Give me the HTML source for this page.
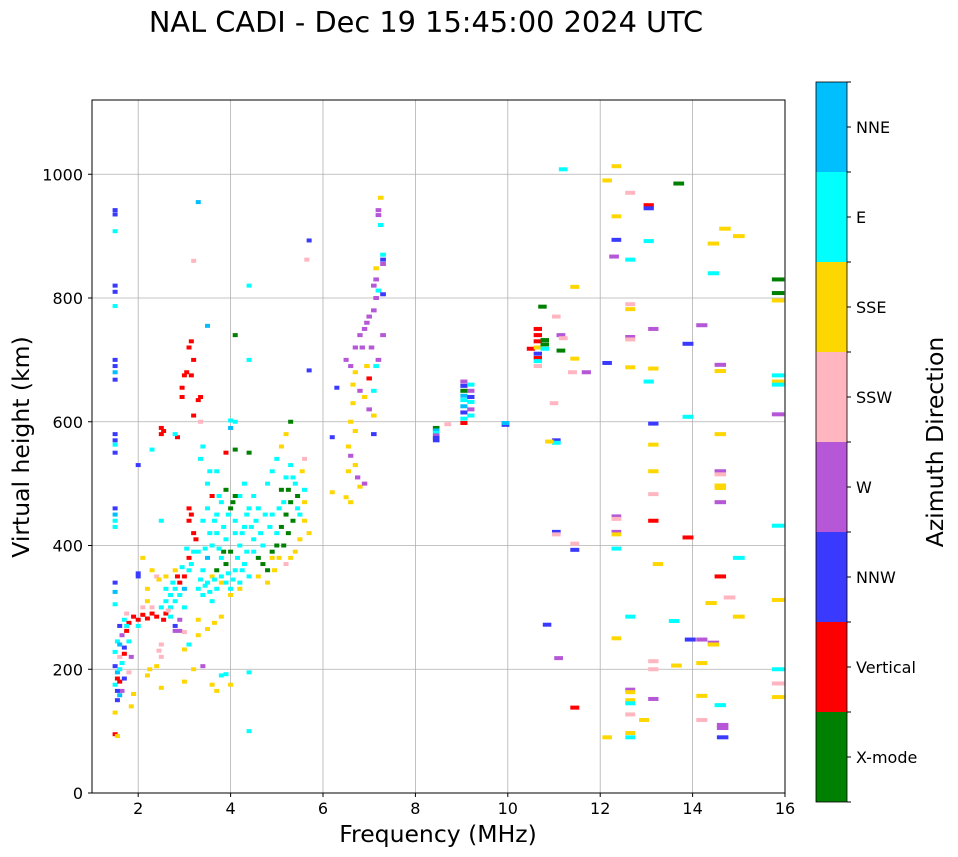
<!DOCTYPE html>
<html><head><meta charset="utf-8">
<style>
body{margin:0;background:#fff;}
svg{display:block;font-family:"DejaVu Sans","Liberation Sans",sans-serif;}
</style></head>
<body>
<svg id="chart" width="958" height="857" viewBox="0 0 958 857">
<text x="426" y="32" font-size="28.8" text-anchor="middle">NAL CADI - Dec 19 15:45:00 2024 UTC</text>
<g id="grid"></g>
<g id="marks"></g>
<rect x="92" y="100" width="693" height="693" fill="none" stroke="#000" stroke-width="1"/>
<g id="axes"></g>
<text x="438" y="842" font-size="23.5" text-anchor="middle">Frequency (MHz)</text>
<text transform="translate(29,447) rotate(-90)" font-size="23.5" text-anchor="middle">Virtual height (km)</text>
<g id="cbar"></g>
<text transform="translate(943,442) rotate(-90)" font-size="23.5" text-anchor="middle">Azimuth Direction</text>
</svg>
<script>
const directions = ["X-mode","Vertical","NNW","W","SSW","SSE","E","NNE"];
const dirColors = ["#008000","#ff0000","#3a3aff","#b557d6","#ffb6c1","#ffd700","#00ffff","#00bfff"];
const xTicks = [2,4,6,8,10,12,14,16];
const yTicks = [0,200,400,600,800,1000];
// echoes: [frequency MHz, virtual height km, direction index]
const echoes = [
[12.35,1013,5],[12.15,990,5],[12.65,970,4],[13.05,950,1],[13.05,945,2],[13.7,985,0],[12.35,932,5],[13.05,892,6],
[14.45,888,5],[14.7,912,5],[15.0,900,5],[12.35,894,2],[12.3,867,3],[12.65,862,6],[14.45,840,6],
[15.85,830,0],[15.85,808,0],[15.85,796,5],[11.45,818,5],[12.65,790,4],[12.65,782,5],[12.65,737,3],[12.65,733,4],
[13.15,750,3],[14.2,756,3],[13.9,726,2],[12.15,695,2],[11.45,702,5],[11.4,680,4],[11.7,680,3],
[12.65,688,5],[13.15,686,5],[13.05,665,6],[14.6,692,3],[14.6,682,5],[15.85,675,6],[15.85,665,5],[15.85,660,6],
[15.85,612,3],[13.9,608,6],[13.15,597,2],[14.6,580,5],[13.15,563,5],[13.15,520,5],[14.6,520,3],[14.6,515,4],
[14.6,497,5],[14.6,493,5],[14.6,470,3],[13.15,483,4],[13.15,440,1],[13.9,413,1],[15.85,432,6],
[12.35,447,3],[12.35,443,4],[12.35,422,3],[12.35,418,5],[12.35,395,6],[15.0,380,6],[14.6,350,1],[13.25,370,5],
[15.85,312,5],[14.4,307,5],[14.8,316,4],[15.0,285,5],[12.65,285,6],[13.6,278,6],[12.35,250,5],[13.95,248,2],
[14.2,248,3],[14.45,243,3],[14.45,240,5],[13.15,213,4],[13.15,200,4],[13.65,206,5],[14.2,210,5],
[15.85,200,6],[15.85,177,4],[15.85,155,5],[12.65,167,3],[12.65,163,5],[12.65,150,5],[12.65,145,6],[12.65,127,4],
[12.95,118,5],[13.15,152,3],[14.2,157,5],[14.6,142,6],[14.2,118,4],[14.65,110,3],[14.65,105,3],[14.65,90,2],
[12.65,97,5],[12.65,90,6],[12.15,90,5],[11.45,138,1],[11.1,218,3],[10.85,272,2],[11.45,393,2],[11.45,403,4],
[11.05,422,2],[11.05,418,4],[11.05,570,2],[11.05,566,6],[10.9,568,5],[11.0,630,4],[11.05,770,4],[11.2,1008,6],
[10.75,786,0],[10.5,718,1],[10.65,750,1],[10.65,740,1],[10.65,730,1],[10.65,720,5],[10.65,710,2],[10.65,703,1],
[10.65,698,6],[10.65,690,4],[10.8,732,0],[10.8,725,0],[10.8,718,6],[11.15,740,3],[11.2,735,4],[11.15,715,0],
[9.95,595,2],[9.95,598,7],
[9.05,665,3],[9.05,658,2],[9.05,650,0],[9.05,642,7],[9.05,635,6],[9.05,625,7],[9.05,615,2],[9.05,605,6],[9.05,598,1],
[9.2,660,6],[9.2,650,3],[9.2,640,2],[9.2,632,6],[9.2,620,3],[9.2,610,6],
[8.45,590,0],[8.45,586,7],[8.45,582,6],[8.45,578,3],[8.45,574,2],[8.45,570,2],[8.7,596,4],
[7.25,962,5],[7.2,942,3],[7.2,934,3],[7.25,918,6],[7.3,870,6],[7.3,862,2],[7.3,855,3],[7.15,848,5],[7.15,830,3],
[7.1,820,3],[7.2,812,6],[7.3,806,2],[7.15,800,3],
[6.5,700,3],[6.6,690,3],[6.7,720,3],[6.8,740,3],[6.9,750,3],[7.0,770,3],[7.1,780,3],[7.05,720,3],[6.95,690,5],
[6.7,680,5],[6.65,660,5],[6.8,650,3],[6.9,640,5],[7.0,620,3],[7.1,610,5],[6.6,600,5],[6.7,585,5],[6.55,560,5],
[6.6,545,3],[6.7,530,5],[6.75,510,3],[6.8,495,5],[6.9,500,3],[6.55,520,5],[6.6,470,5],[7.1,650,6],[7.15,690,6],
[7.3,740,3],[7.2,700,3],[7.0,670,1],[6.65,630,5],[7.1,580,2],[6.85,720,3],[6.95,760,3],
[6.3,655,2],[6.2,575,2],[6.2,486,5],[6.5,478,5],[5.7,893,2],[5.65,862,4],[5.7,683,2],
[1.5,942,2],[1.5,935,2],[1.5,908,6],[1.5,820,2],[1.5,810,2],[1.5,787,6],[1.5,700,2],[1.5,690,2],[1.5,680,7],
[1.5,668,2],[1.5,580,2],[1.5,570,2],[1.5,563,6],[1.5,550,2],[1.5,460,2],[1.5,450,7],[1.5,440,6],[1.5,430,6],
[1.5,95,1],[1.55,92,5],[1.5,130,5],[1.55,150,2],[1.6,158,7],[1.65,165,3],[1.5,175,6],[1.6,180,1],[1.7,185,2],
[1.55,195,7],[1.5,205,2],[1.65,210,6],[1.6,220,4],[1.5,228,6],[1.7,235,2],[1.55,245,6],[1.65,255,3],[1.75,262,1],
[1.6,270,2],[1.7,280,6],[1.75,290,4],[1.8,275,1],[1.8,245,6],[1.85,220,3],[1.8,195,4],[1.9,160,5],[1.85,140,5],
[1.5,340,2],[1.5,325,7],[1.5,305,6],[1.55,165,2],[1.6,200,6],[1.7,225,1],[1.6,240,7],[1.75,270,6],[1.55,185,1],
[1.9,285,1],[2.0,280,1],[2.1,288,1],[2.2,282,1],[2.3,290,1],[2.4,285,1],[2.0,270,6],[2.1,300,4],[2.2,310,5],
[2.3,300,4],[2.0,350,2],[2.2,330,5],[2.3,360,5],[2.4,350,4],[2.45,345,5],[2.5,300,6],[2.5,240,4],[2.45,230,4],
[2.5,220,4],[2.4,205,5],[2.25,200,5],[2.2,190,5],[2.6,310,6],[2.7,320,6],[2.6,290,1],[2.7,300,6],[2.8,310,6],
[2.8,330,6],[2.9,340,1],[2.9,320,6],[3.0,350,1],[3.0,330,7],[3.1,360,6],[3.1,380,1],[3.2,390,6],[3.0,300,6],
[2.9,280,3],[2.8,262,3],[2.9,262,3],[3.0,260,4],[3.1,240,6],[3.0,232,5],[2.8,270,2],[2.7,285,6],
[2.55,280,1],[2.65,295,4],[2.75,340,6],[2.95,365,6],[3.05,395,6],[3.15,370,6],[2.85,350,1],[2.6,330,6],
[3.0,675,1],[3.05,680,1],[3.15,675,1],[3.1,720,1],[3.15,730,1],[3.2,700,1],[2.95,655,1],[2.95,640,1],[3.35,640,1],
[3.3,635,1],[3.2,610,1],[2.5,590,1],[2.55,585,1],[2.5,580,1],[3.35,600,4],[2.85,575,1],[3.1,460,1],[3.15,450,1],
[3.1,440,1],[3.2,420,1],[3.25,410,1],
[3.3,330,6],[3.4,320,6],[3.5,340,6],[3.6,310,6],[3.7,330,6],[3.8,350,6],[3.9,340,6],[4.0,330,6],[4.1,360,6],
[4.2,340,6],[4.3,370,6],[4.4,350,6],[3.4,360,6],[3.5,380,7],[3.6,400,6],[3.7,420,6],[3.8,380,6],[3.9,410,6],
[4.0,390,0],[4.1,420,6],[4.2,400,6],[4.3,430,6],[4.5,410,6],[3.4,440,6],[3.5,460,6],[3.6,480,1],[3.7,450,6],
[3.8,470,6],[3.9,490,0],[4.0,460,0],[4.1,440,6],[4.2,480,6],[4.4,460,6],[3.5,500,6],[3.7,520,6],[3.9,550,1],
[4.0,590,7],[4.1,600,6],[3.6,350,5],[3.7,360,0],[3.8,340,5],[4.0,320,5],[4.2,330,5],[3.9,370,0],[3.85,390,0],
[4.05,470,0],[4.1,480,0],[4.4,550,0],[4.3,500,6],[4.5,480,6],[4.6,460,6],[4.8,500,6],[4.9,520,6],[4.6,380,0],
[4.7,370,0],[4.8,360,0],[4.9,390,0],[5.0,400,0],[4.7,400,6],[4.5,390,6],[4.6,350,5],[4.8,340,5],[4.9,380,5],
[5.0,420,6],[5.1,430,0],[5.2,450,0],[5.3,470,0],[5.1,490,0],[5.2,510,6],[5.3,530,6],[5.4,500,6],[5.5,450,6],
[5.6,440,5],[5.7,420,5],[5.5,410,5],[5.4,390,5],[5.3,380,5],[5.2,370,4],[5.6,470,5],[5.1,560,5],[5.3,600,0],
[5.2,580,5],[5.6,540,4],[5.55,520,5],[5.0,540,6],[4.9,450,6],[5.25,420,0],[5.35,440,0],[5.45,460,6],[5.6,490,6],
[3.35,345,6],[3.45,335,6],[3.55,325,6],[3.65,345,6],[3.75,395,6],[3.95,355,6],[4.05,345,6],[4.15,380,6],
[4.25,360,6],[4.35,390,6],[3.45,395,6],[3.55,420,6],[3.65,440,6],[3.75,480,6],[3.85,430,6],[3.95,450,6],
[4.25,420,6],[4.35,450,6],[4.45,430,6],[4.55,440,6],[4.65,420,6],[4.75,450,6],[4.85,430,6],[5.05,460,6],
[5.15,470,6],[5.25,490,0],[5.35,510,6],[5.45,480,0],[5.15,400,0],[4.95,360,5],[5.05,380,5],[3.3,390,6],
[3.35,540,6],[3.4,560,6],[3.55,520,6],[2.8,360,5],[2.6,350,5],[3.3,280,5],[3.5,265,5],[3.65,275,5],[3.8,285,5],
[3.3,255,5],[3.6,175,5],[3.7,165,5],[3.8,190,6],[3.9,192,6],[4.0,175,5],[3.2,200,5],[3.4,205,3],[4.4,195,6],
[4.1,555,0],[4.4,820,6],[4.1,740,0],[4.4,700,6],[4.0,602,6],[4.4,100,6],[3.3,955,7],[3.5,755,7],[3.2,860,4],
[2.1,380,5],[2.0,355,2],[2.3,555,6],[2.0,530,2],[2.5,440,6],[2.8,580,6],[3.0,180,5],[2.5,170,5]
];
const NS="http://www.w3.org/2000/svg";
const X0=92,X1=785,Y0=793,Y1=100,FMIN=1,FMAX=16,HMIN=0,HMAX=1120;
const xs=f=>X0+(f-FMIN)/(FMAX-FMIN)*(X1-X0);
const ys=h=>Y0-(h-HMIN)/(HMAX-HMIN)*(Y0-Y1);
function mk(tag,attrs,parent){const e=document.createElementNS(NS,tag);for(const k in attrs)e.setAttribute(k,attrs[k]);parent.appendChild(e);return e;}
const grid=document.getElementById('grid'),axes=document.getElementById('axes'),marks=document.getElementById('marks'),cbar=document.getElementById('cbar');
xTicks.forEach(t=>{const x=xs(t);
 const g=mk('line',{x1:x,x2:x,y1:Y1,y2:Y0,stroke:'#b0b0b0','stroke-width':0.8},grid);
 
 
 mk('line',{x1:x,x2:x,y1:Y0,y2:Y0+4,stroke:'#000'},axes);
 const tx=mk('text',{x:x,y:Y0+21,'font-size':16,'text-anchor':'middle'},axes);tx.textContent=t;
 
 
});
yTicks.forEach(t=>{const y=ys(t);
 const g=mk('line',{x1:X0,x2:X1,y1:y,y2:y,stroke:'#b0b0b0','stroke-width':0.8},grid);
 
 
 mk('line',{x1:X0-4,x2:X0,y1:y,y2:y,stroke:'#000'},axes);
 const tx=mk('text',{x:X0-9,y:y+6,'font-size':16,'text-anchor':'end'},axes);tx.textContent=t;
 
 
});
echoes.forEach(p=>{const f=p[0],h=p[1],c=p[2];
 const w=Math.max(5,(xs(f*1.017)-xs(f)));
 const r=mk('rect',{x:xs(f)-w/2,y:ys(h)-2,width:w,height:4,fill:dirColors[c]},marks);
 
 
});
const CB_X=816,CB_W=31,CB_TOP=82,CB_BOT=802,seg=(CB_BOT-CB_TOP)/directions.length;
directions.forEach((d,i)=>{const y=CB_BOT-(i+1)*seg;
 const r=mk('rect',{x:CB_X,y:y,width:CB_W,height:seg,fill:dirColors[i]},cbar);
 
 
 mk('line',{x1:CB_X+CB_W,x2:CB_X+CB_W+4,y1:y+seg/2,y2:y+seg/2,stroke:'#000'},cbar);
 const t=mk('text',{x:CB_X+CB_W+9,y:y+seg/2+6,'font-size':16},cbar);t.textContent=d;
 
 
});
for(let i=0;i<=directions.length;i++){const y=CB_TOP+i*seg;mk('line',{x1:CB_X+CB_W,x2:CB_X+CB_W+4,y1:y,y2:y,stroke:'#000'},cbar);}
const fr=mk('rect',{x:CB_X,y:CB_TOP,width:CB_W,height:CB_BOT-CB_TOP,fill:'none',stroke:'#000','stroke-width':0.8},cbar);


</script>
</body></html>
